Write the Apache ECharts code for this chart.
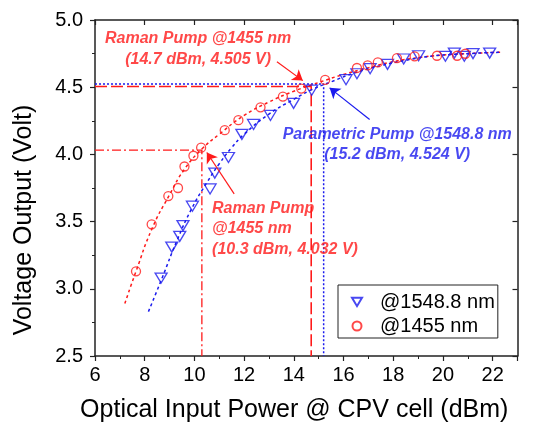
<!DOCTYPE html>
<html>
<head>
<meta charset="utf-8">
<script src="https://cdn.jsdelivr.net/npm/echarts@6/dist/echarts.min.js"></script>
<style>html,body{margin:0;padding:0;background:#fff}#c{width:535px;height:428px}</style>
</head>
<body>
<div id="c"></div>
<script>
// ---- data ----
var redX = [7.65, 8.28, 8.95, 9.34, 9.6, 9.96, 10.27, 11.22, 11.77, 12.66, 13.56, 14.3, 15.26, 16.54, 16.97, 17.38, 18.15, 18.86, 19.76, 20.57, 20.9];
var redY = [3.13, 3.48, 3.69, 3.75, 3.91, 3.99, 4.05, 4.18, 4.255, 4.35, 4.43, 4.49, 4.554, 4.643, 4.662, 4.684, 4.717, 4.73, 4.734, 4.734, 4.749];
var blueX = [8.66, 9.09, 9.41, 9.54, 9.92, 10.63, 10.82, 11.37, 11.91, 12.38, 13.06, 13.99, 14.72, 16.1, 16.54, 17.07, 17.77, 18.42, 19.02, 20.1, 20.46, 20.86, 21.21, 21.88];
var blueY = [3.08, 3.31, 3.39, 3.47, 3.615, 3.743, 3.861, 3.977, 4.149, 4.223, 4.29, 4.38, 4.478, 4.556, 4.6, 4.638, 4.67, 4.71, 4.734, 4.73, 4.754, 4.73, 4.75, 4.754];
var redFitX = [7.2, 7.65, 8.3, 9.0, 9.6, 10.3, 11.0, 12.0, 13.0, 14.0, 15.0, 16.0, 17.0, 18.0, 19.0, 20.0, 21.0, 22.3];
var redFitY = [2.89, 3.13, 3.45, 3.7, 3.89, 4.04, 4.15, 4.29, 4.39, 4.47, 4.535, 4.595, 4.645, 4.69, 4.72, 4.74, 4.75, 4.76];
var blueFitX = [8.15, 8.7, 9.3, 9.9, 10.5, 11.0, 11.5, 12.0, 13.0, 14.0, 14.7, 15.5, 16.5, 17.5, 18.5, 19.5, 20.5, 22.3];
var blueFitY = [2.83, 3.08, 3.36, 3.6, 3.79, 3.93, 4.05, 4.15, 4.3, 4.41, 4.48, 4.54, 4.61, 4.66, 4.7, 4.73, 4.745, 4.76];
var ramanLow = [10.3, 4.032];
var ramanHigh = [14.7, 4.505];
var paramPt = [15.2, 4.524];
var xTicks = {min: 6, max: 23, interval: 2};
var yTicks = {min: 2.5, max: 5.0, interval: 0.5};
var seriesNames = ['@1548.8 nm', '@1455 nm'];
var arrowRaman1 = [[13.32, 4.69], [14.36, 4.549]];
var arrowParam = [[17.05, 4.26], [15.44, 4.495]];
var arrowRaman2 = [[11.6, 3.706], [10.5, 4.014]];
var noteTexts = [
  'Raman Pump @1455 nm\n(14.7 dBm, 4.505 V)',
  'Parametric Pump @1548.8 nm\n(15.2 dBm, 4.524 V)',
  'Raman Pump\n@1455 nm\n(10.3 dBm, 4.032 V)'
];
var notePos = [[10.15, 4.78], [18.16, 4.075], [10.71, 3.447]];

// ---- chart ----
var RED = '#ff1a1a', BLUE = '#1a1aee', AX = '#222';
var FONT = '"Liberation Sans", Arial, sans-serif';
function zip(a, b) { return a.map(function (v, i) { return [v, b[i]]; }); }
var triPath = 'path://M0,0 L12,0 L6,10 Z';

var chart = echarts.init(document.getElementById('c'), null, {renderer: 'canvas'});
function refLine(p) { return [[xTicks.min, p[1]], [p[0], p[1]], [p[0], yTicks.min]]; }
function arrow(a, color) {
  return {
    silent: true, symbol: ['none', 'arrow'], symbolSize: 10, animation: false,
    lineStyle: {type: 'solid', color: color, width: 1.2}, label: {show: false},
    itemStyle: {color: color},
    data: [[{coord: a[0]}, {coord: a[1]}]]
  };
}
var boldItalic = {fontFamily: FONT, fontWeight: 'bold', fontStyle: 'italic', fontSize: 16};

var option = {
  animation: false,
  backgroundColor: '#fff',
  grid: {left: 95, right: 17.5, top: 20, bottom: 70, containLabel: false},
  legend: {
    data: seriesNames, orient: 'vertical', left: 338, top: 285,
    borderColor: AX, borderWidth: 1, padding: [7, 3, 2, 13], itemGap: 4,
    itemWidth: 10, itemHeight: 9,
    textStyle: {fontFamily: FONT, fontSize: 20, color: '#000', padding: [0, 0, 0, 13]}
  },
  xAxis: [{
    type: 'value', min: xTicks.min, max: xTicks.max, interval: xTicks.interval,
    name: 'Optical Input Power @ CPV cell (dBm)', nameLocation: 'middle', nameGap: 42,
    nameTextStyle: {fontFamily: FONT, fontSize: 25, color: '#000', padding: [0, 24, 0, 0]},
    axisLine: {show: true, onZero: false, lineStyle: {color: AX, width: 1.5}},
    axisTick: {show: true, inside: false, length: 5, lineStyle: {color: AX, width: 1.2}},
    minorTick: {show: true, splitNumber: 2, length: 3, lineStyle: {color: AX, width: 1}},
    axisLabel: {fontFamily: FONT, fontSize: 20, color: '#000', margin: 9, showMaxLabel: false},
    splitLine: {show: false}
  }, {
    type: 'value', position: 'top', min: xTicks.min, max: xTicks.max, interval: xTicks.interval,
    axisLine: {show: true, onZero: false, lineStyle: {color: AX, width: 1.5}},
    axisTick: {show: true, inside: true, length: 5, lineStyle: {color: AX, width: 1.2}},
    axisLabel: {show: false}, splitLine: {show: false}
  }],
  yAxis: [{
    type: 'value', min: yTicks.min, max: yTicks.max, interval: yTicks.interval,
    name: 'Voltage Output (Volt)', nameLocation: 'middle', nameGap: 58, nameRotate: 90,
    nameTextStyle: {fontFamily: FONT, fontSize: 25, color: '#000', padding: [0, 64, 0, 0]},
    axisLine: {show: true, onZero: false, lineStyle: {color: AX, width: 1.5}},
    axisTick: {show: true, inside: false, length: 5, lineStyle: {color: AX, width: 1.2}},
    minorTick: {show: true, splitNumber: 2, length: 3, lineStyle: {color: AX, width: 1}},
    axisLabel: {fontFamily: FONT, fontSize: 20, color: '#000', margin: 12,
      formatter: function (v) { return v.toFixed(1); }},
    splitLine: {show: false}
  }, {
    type: 'value', position: 'right', min: yTicks.min, max: yTicks.max, interval: yTicks.interval,
    axisLine: {show: true, onZero: false, lineStyle: {color: AX, width: 1.5}},
    axisTick: {show: true, inside: true, length: 5, lineStyle: {color: AX, width: 1.2}},
    axisLabel: {show: false}, splitLine: {show: false}
  }],
  series: [
    {name: 'refRamanLow', type: 'line', data: refLine(ramanLow), symbol: 'none', silent: true, z: 1,
      lineStyle: {color: RED, width: 1.3, type: [9, 3, 2, 3]}},
    {name: 'refRamanHigh', type: 'line', data: refLine(ramanHigh), symbol: 'none', silent: true, z: 1,
      lineStyle: {color: RED, width: 1.6, type: [12, 4]}},
    {name: 'refParam', type: 'line', data: refLine(paramPt), symbol: 'none', silent: true, z: 1,
      lineStyle: {color: BLUE, width: 1.5, type: [2, 2]}},
    {name: 'fitRed', type: 'line', data: zip(redFitX, redFitY), smooth: true, symbol: 'none', silent: true, z: 2,
      lineStyle: {color: RED, width: 1.5, type: [3, 3]}, markLine: arrow(arrowRaman1, RED)},
    {name: 'fitBlue', type: 'line', data: zip(blueFitX, blueFitY), smooth: true, symbol: 'none', silent: true, z: 2,
      lineStyle: {color: BLUE, width: 1.5, type: [3, 3]}, markLine: arrow(arrowParam, BLUE)},
    {name: seriesNames[0], type: 'scatter', data: zip(blueX, blueY), symbol: triPath, symbolSize: [12, 10], z: 3,
      itemStyle: {color: 'rgba(0,0,0,0)', borderColor: BLUE, borderWidth: 1.3}},
    {name: seriesNames[1], type: 'scatter', data: zip(redX, redY), symbol: 'circle', symbolSize: 9, z: 3,
      itemStyle: {color: 'rgba(0,0,0,0)', borderColor: RED, borderWidth: 1.3},
      markLine: arrow(arrowRaman2, RED)},
    {name: 'notes', type: 'scatter', symbolSize: 0, silent: true, z: 5,
      data: [
        {value: notePos[0], label: Object.assign({show: true, position: 'inside', align: 'center', verticalAlign: 'middle',
          color: RED, lineHeight: 21, formatter: noteTexts[0]}, boldItalic)},
        {value: notePos[1], label: Object.assign({show: true, position: 'inside', align: 'center', verticalAlign: 'middle',
          color: BLUE, lineHeight: 20, formatter: noteTexts[1]}, boldItalic)},
        {value: notePos[2], label: Object.assign({show: true, position: 'right', distance: 0, align: 'left', verticalAlign: 'middle',
          color: RED, lineHeight: 20.5, formatter: noteTexts[2]}, boldItalic)}
      ]}
  ]
};
chart.setOption(option);
</script>
</body>
</html>
